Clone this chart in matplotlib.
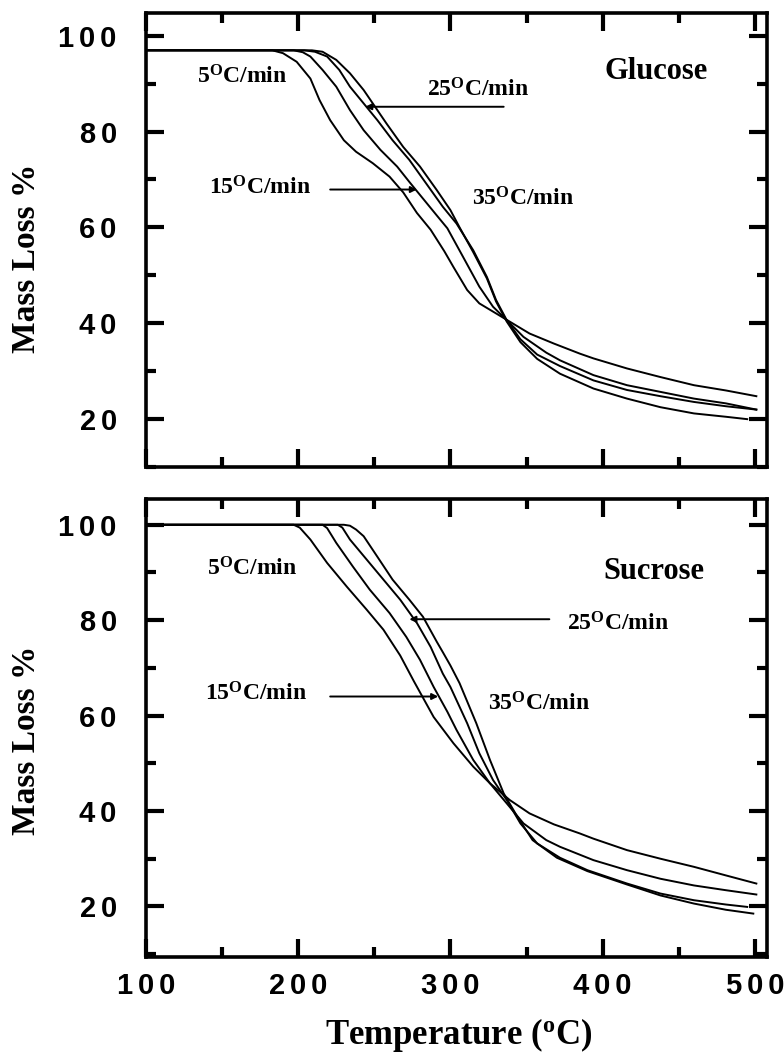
import matplotlib
matplotlib.use('Agg')
import matplotlib.pyplot as plt
from matplotlib.ticker import MultipleLocator, FuncFormatter

plt.rcParams['mathtext.fontset'] = 'custom'
plt.rcParams['mathtext.rm'] = 'Liberation Serif:bold'
plt.rcParams['mathtext.bf'] = 'Liberation Serif:bold'
plt.rcParams['mathtext.it'] = 'Liberation Serif:italic:bold'

# ---- Glucose TGA curves (temperature in C, mass %) ----
glu5_T = [100, 183, 190, 199, 208, 214, 221, 230, 238, 249, 260, 269, 278, 287, 296,
          302, 311, 319, 330, 341, 352, 368, 385, 394, 416, 438, 460, 481, 501]
glu5_m = [97.0, 97.0, 96.4, 94.6, 91.1, 86.6, 82.4, 78.2, 75.8, 73.4, 70.6, 67.3, 63.0, 59.5, 55.0,
          51.7, 46.9, 44.1, 42.0, 39.9, 37.8, 35.7, 33.6, 32.6, 30.5, 28.7, 27.0, 25.9, 24.7]

glu15_T = [100, 197, 203, 208, 216, 225, 234, 243, 254, 265, 273, 282, 291, 298, 308,
           319, 328, 337, 348, 363, 372, 394, 416, 438, 460, 481, 501]
glu15_m = [97.0, 97.0, 96.6, 95.7, 92.9, 89.4, 84.5, 80.3, 76.2, 72.7, 69.5, 66.0, 62.5, 59.8, 54.0,
           47.6, 43.4, 40.6, 37.1, 33.8, 32.2, 29.1, 27.0, 25.6, 24.2, 23.2, 21.9]

glu25_T = [100, 204, 211, 219, 227, 234, 243, 252, 262, 273, 284, 295, 304, 315, 324,
           330, 337, 346, 357, 372, 394, 416, 438, 460, 481, 501]
glu25_m = [97.0, 97.0, 96.7, 95.7, 92.9, 89.4, 85.9, 82.4, 78.2, 74.1, 69.2, 64.3, 60.8, 55.2, 49.6,
           44.8, 40.6, 36.6, 33.4, 31.0, 28.0, 26.0, 24.7, 23.5, 22.6, 21.9]

glu35_T = [100, 209, 216, 225, 234, 243, 249, 258, 269, 280, 291, 300, 306, 315, 324,
           330, 337, 346, 357, 372, 394, 416, 438, 460, 481, 495]
glu35_m = [97.0, 97.0, 96.7, 95.0, 92.2, 88.7, 85.9, 81.7, 76.8, 72.7, 67.8, 63.6, 60.0, 54.8, 49.3,
           44.5, 40.3, 36.0, 32.5, 29.4, 26.3, 24.2, 22.4, 21.1, 20.4, 19.9]

# ---- Sucrose TGA curves ----
suc5_T = [100, 197, 201, 208, 219, 232, 245, 256, 267, 276, 289, 302, 315, 326, 339,
          352, 368, 385, 394, 416, 438, 460, 481, 501]
suc5_m = [100, 100, 99.4, 96.9, 92.0, 87.0, 82.2, 78.0, 72.6, 67.2, 59.7, 54.2, 49.3, 45.8, 42.3,
          39.5, 37.2, 35.3, 34.2, 31.8, 30.0, 28.3, 26.5, 24.8]

suc15_T = [100, 216, 219, 225, 236, 247, 260, 271, 280, 289, 298, 304, 315, 326, 337,
           348, 363, 372, 394, 416, 438, 460, 481, 501]
suc15_m = [100, 100, 99.3, 96.2, 91.2, 86.4, 81.5, 76.5, 71.7, 66.0, 60.8, 57.0, 50.7, 45.8, 41.6,
           37.4, 33.9, 32.5, 29.7, 27.6, 25.8, 24.4, 23.4, 22.5]

suc25_T = [100, 226, 229, 234, 245, 256, 267, 278, 287, 295, 300, 311, 319, 328, 337,
           346, 357, 372, 390, 416, 438, 460, 481, 495]
suc25_m = [100, 100, 99.4, 96.9, 92.7, 88.5, 84.3, 79.4, 74.4, 68.8, 66.0, 58.4, 52.1, 46.5, 42.3,
           37.4, 33.2, 30.2, 27.6, 24.8, 22.7, 21.3, 20.4, 19.9]

suc35_T = [100, 230, 234, 238, 243, 252, 262, 273, 282, 291, 295, 300, 306, 317, 326,
           335, 344, 354, 370, 390, 416, 438, 460, 481, 499]
suc35_m = [100, 100, 99.8, 99.0, 97.6, 93.3, 88.5, 84.3, 80.7, 75.5, 73.3, 70.5, 66.8, 58.4, 50.7,
           43.7, 38.8, 33.9, 30.2, 27.4, 24.6, 22.3, 20.6, 19.3, 18.5]

x_ticks_major = [100, 200, 300, 400, 500]
y_ticks_major = [20, 40, 60, 80, 100]

serif = ['Liberation Serif', 'DejaVu Serif']
tickfont = ['Liberation Sans', 'DejaVu Sans']


def spaced(v, pos):
    # the original tick labels have wide letter spacing
    return '\u2006'.join(str(int(round(v))))


def style_axes(ax, ylim, show_x):
    ax.set_xlim(100, 508)
    ax.set_ylim(*ylim)
    ax.set_xticks(x_ticks_major)
    ax.set_yticks(y_ticks_major)
    ax.xaxis.set_minor_locator(MultipleLocator(50))
    ax.yaxis.set_minor_locator(MultipleLocator(10))
    ax.tick_params(which='both', direction='in', top=True, right=True, width=3, color='k')
    ax.tick_params(which='major', length=13)
    ax.tick_params(which='minor', length=7)
    ax.tick_params(axis='y', pad=21)
    ax.tick_params(axis='x', pad=11)
    ax.xaxis.set_major_formatter(FuncFormatter(spaced))
    ax.yaxis.set_major_formatter(FuncFormatter(spaced))
    for lab in ax.get_xticklabels() + ax.get_yticklabels():
        lab.set_family(tickfont)
        lab.set_fontweight('bold')
        lab.set_fontsize(21)
    if not show_x:
        ax.tick_params(axis='x', labelbottom=False)
    for s in ax.spines.values():
        s.set_linewidth(2.6)


def rate_label(ax, x, y, txt):
    ax.text(x, y, txt, ha='center', va='center', family=serif, fontweight='bold', fontsize=17)


def arrow(ax, x0, x1, y):
    ax.annotate('', xy=(x1, y), xytext=(x0, y),
                arrowprops=dict(arrowstyle='-|>', lw=1.4, color='k', mutation_scale=9,
                                shrinkA=0, shrinkB=0))


fig = plt.figure(figsize=(7.84, 10.54), dpi=100)
W, H = 784, 1054
ax1 = fig.add_axes([146 / W, 1 - 467 / H, (767 - 146) / W, (467 - 13) / H])
ax2 = fig.add_axes([146 / W, 1 - 957 / H, (767 - 146) / W, (957 - 499) / H])

lw = 1.4
for T, m in [(glu5_T, glu5_m), (glu15_T, glu15_m), (glu25_T, glu25_m), (glu35_T, glu35_m)]:
    ax1.plot(T, m, color='k', lw=lw)
for T, m in [(suc5_T, suc5_m), (suc15_T, suc15_m), (suc25_T, suc25_m), (suc35_T, suc35_m)]:
    ax2.plot(T, m, color='k', lw=lw)

style_axes(ax1, (9.9, 104.8), False)
style_axes(ax2, (9.4, 105.4), True)

# Glucose annotations
rate_label(ax1, 163, 91.5, r'5$^{\mathrm{O}}$C/min')
rate_label(ax1, 318, 88.7, r'25$^{\mathrm{O}}$C/min')
rate_label(ax1, 175, 68.3, r'15$^{\mathrm{O}}$C/min')
rate_label(ax1, 348, 65.9, r'35$^{\mathrm{O}}$C/min')
arrow(ax1, 335, 244, 85.2)
arrow(ax1, 221, 278, 67.9)
ax1.text(435, 92.5, 'Glucose', ha='center', va='center', family=serif, fontweight='bold', fontsize=22)

# Sucrose annotations
rate_label(ax2, 170, 90.8, r'5$^{\mathrm{O}}$C/min')
rate_label(ax2, 410, 79.2, r'25$^{\mathrm{O}}$C/min')
rate_label(ax2, 172, 64.5, r'15$^{\mathrm{O}}$C/min')
rate_label(ax2, 358, 62.4, r'35$^{\mathrm{O}}$C/min')
arrow(ax2, 365, 273, 80.2)
arrow(ax2, 221, 292, 64.0)
ax2.text(434, 90.2, 'Sucrose', ha='center', va='center', family=serif, fontweight='bold', fontsize=22)

fig.text(27 / W, 1 - 258 / H, 'Mass Loss %', rotation=90, ha='center', va='center',
         family=serif, fontweight='bold', fontsize=24)
fig.text(27 / W, 1 - 740 / H, 'Mass Loss %', rotation=90, ha='center', va='center',
         family=serif, fontweight='bold', fontsize=24)
fig.text(459 / W, 1 - 1035 / H, r'Temperature ($^{\mathrm{o}}$C)', ha='center', va='center',
         family=serif, fontweight='bold', fontsize=25)

fig.savefig('out.png', dpi=100)
